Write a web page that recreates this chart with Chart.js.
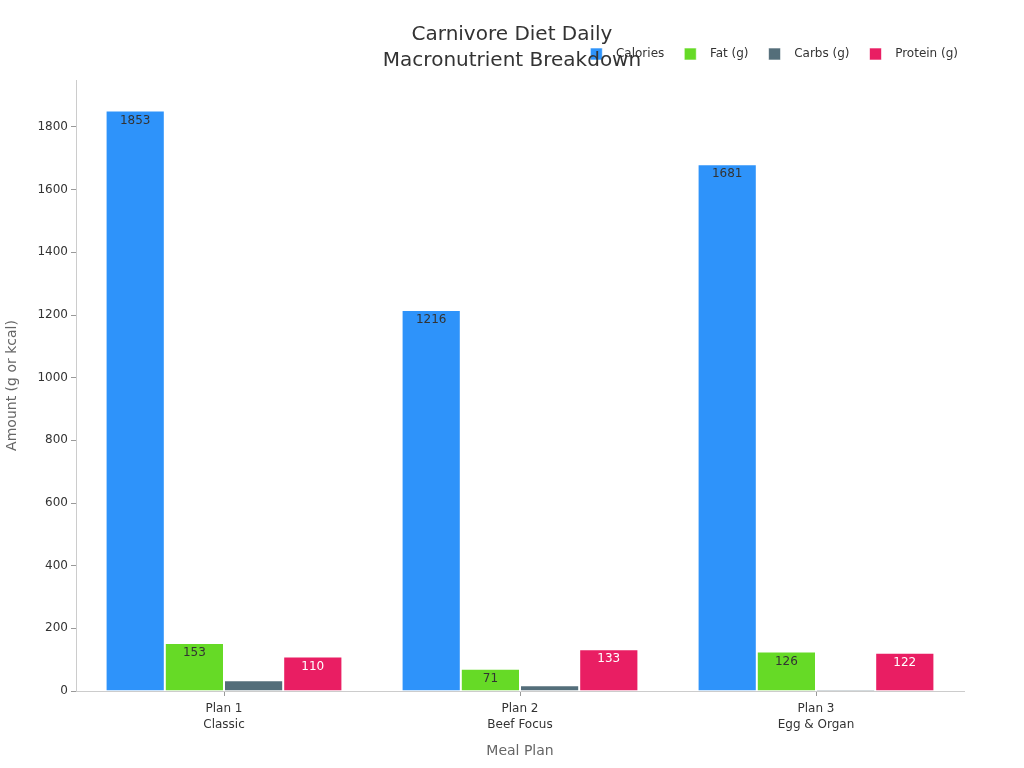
<!DOCTYPE html>
<html>
<head>
<meta charset="utf-8">
<script src="https://cdn.jsdelivr.net/npm/chart.js@4.4.0/dist/chart.umd.min.js"></script>
<style>
  html, body { margin: 0; padding: 0; background: #fff; }
  #wrap { width: 1024px; height: 768px; }
</style>
</head>
<body>
<div id="wrap"><canvas id="c" width="1024" height="768"></canvas></div>
<script>
const categories = [["Plan 1", "Classic"], ["Plan 2", "Beef Focus"], ["Plan 3", "Egg & Organ"]];
const seriesNames = ["Calories", "Fat (g)", "Carbs (g)", "Protein (g)"];
const calories = [1853, 1216, 1681];
const fat = [153, 71, 126];
const carbs = [34, 18, 5];
const protein = [110, 133, 122];
const yTicks = [0, 200, 400, 600, 800, 1000, 1200, 1400, 1600, 1800];
const titleLines = ["Carnivore Diet Daily", "Macronutrient Breakdown"];

const colors = ["#2E93FA", "#66DA26", "#546E7A", "#E91E63"];
const labelColors = ["#333333", "#333333", null, "#ffffff"];
const FONT = "'DejaVu Sans', sans-serif";

const titlePlugin = {
  id: 'customTitle',
  afterDraw(chart) {
    const ctx = chart.ctx;
    ctx.save();
    ctx.font = "20px " + FONT;
    ctx.fillStyle = "#333333";
    ctx.textAlign = "center";
    ctx.textBaseline = "alphabetic";
    ctx.fillText(titleLines[0], 512, 40);
    ctx.fillText(titleLines[1], 512, 66);
    ctx.restore();
  }
};

const labelPlugin = {
  id: 'barLabels',
  afterDatasetsDraw(chart) {
    const ctx = chart.ctx;
    ctx.save();
    ctx.font = "12px " + FONT;
    ctx.textAlign = "center";
    ctx.textBaseline = "middle";
    chart.data.datasets.forEach((ds, i) => {
      const col = labelColors[i];
      if (!col) return;
      const meta = chart.getDatasetMeta(i);
      meta.data.forEach((bar, j) => {
        ctx.fillStyle = col;
        ctx.fillText(String(ds.data[j]), bar.x, bar.y + 10);
      });
    });
    ctx.restore();
  }
};

const seriesData = [calories, fat, carbs, protein];
new Chart(document.getElementById('c'), {
  type: 'bar',
  data: {
    labels: categories,
    datasets: seriesNames.map((n, i) => ({
      label: "  " + n,
      data: seriesData[i],
      backgroundColor: colors[i],
      borderColor: "rgba(255,255,255,0.6)",
      borderWidth: 1,
      categoryPercentage: 0.8,
      barPercentage: 1.0,
      xAxisID: 'x',
      yAxisID: 'y'
    }))
  },
  options: {
    responsive: false,
    animation: false,
    layout: { padding: { top: 28, right: 46, left: 0, bottom: 4 } },
    plugins: {
      legend: {
        position: 'top',
        align: 'end',
        labels: {
          boxWidth: 12, boxHeight: 12, padding: 20,
          color: "#333333",
          font: { family: FONT, size: 12 }
        }
      },
      title: { display: false },
      tooltip: { enabled: false }
    },
    scales: {
      x: {
        position: 'bottom',
        grid: { display: true, drawOnChartArea: false, drawTicks: true, tickLength: 5, offset: false, color: "#999999" },
        border: { display: true, color: "#cccccc" },
        ticks: { color: "#333333", font: { family: FONT, size: 12, lineHeight: 1.35 }, padding: 5 },
        title: { display: true, text: "Meal Plan", color: "#666666", font: { family: FONT, size: 14 }, padding: { top: 10 } },
        afterFit(scale) { scale.height = 73; }
      },
      xTop: {
        type: 'category',
        position: 'top',
        display: true,
        grid: { display: false },
        border: { display: false },
        ticks: { display: false },
        afterFit(scale) { scale.height = 10; }
      },
      y: {
        position: 'left',
        min: 0, max: 1950,
        afterBuildTicks(scale) { scale.ticks = yTicks.map(v => ({ value: v })); },
        grid: { display: true, drawOnChartArea: false, drawTicks: true, tickLength: 5, color: "#999999" },
        border: { display: true, color: "#cccccc" },
        ticks: { color: "#333333", font: { family: FONT, size: 12 }, padding: 3, callback: (v) => String(v) },
        title: { display: true, text: "Amount (g or kcal)", color: "#666666", font: { family: FONT, size: 14 }, padding: { bottom: 4 } },
        afterFit(scale) { scale.width = 76; }
      },
      yRight: {
        type: 'linear',
        position: 'right',
        display: true,
        grid: { display: false },
        border: { display: false },
        ticks: { display: false },
        afterFit(scale) { scale.width = 14; }
      }
    }
  },
  plugins: [titlePlugin, labelPlugin]
});
</script>
</body>
</html>
